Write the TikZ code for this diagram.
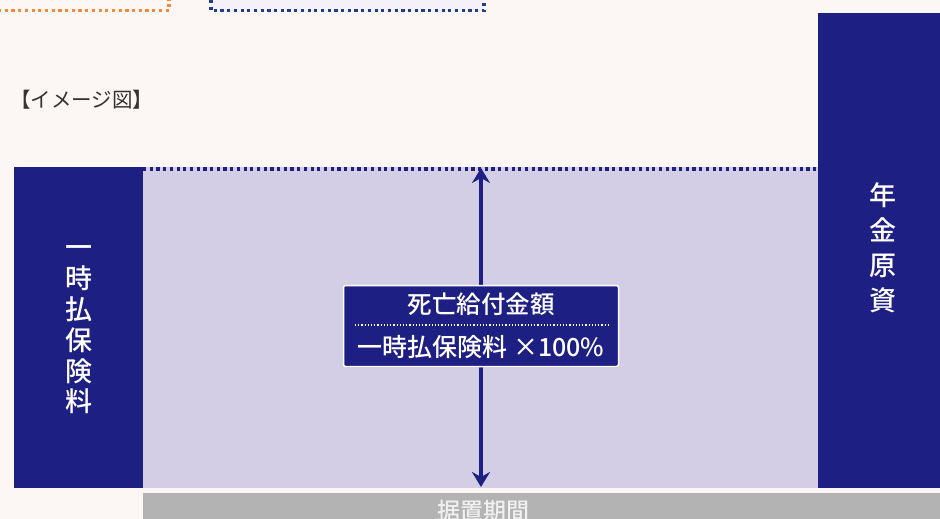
\documentclass[tikz,border=0pt]{standalone}
\usepackage{fontspec}
\setmainfont{Noto Sans CJK JP}
\newfontfamily\medfont{Noto Sans CJK JP}[UprightFont=* Medium]
\usetikzlibrary{arrows.meta,shadows}
\definecolor{bgc}{HTML}{FCF6F5}
\definecolor{navy}{HTML}{1E1F82}
\definecolor{lav}{HTML}{D3CEE6}
\definecolor{grayc}{HTML}{B3B3B3}
\definecolor{orangec}{HTML}{F28A3C}
\definecolor{bluedot}{HTML}{1F3C8F}
\definecolor{boxfill}{HTML}{F4F2F8}
\tikzset{
  vtext/.style={text=white,font=\medfont\fontsize{27}{30.8}\selectfont,align=center,inner sep=0pt},
  dotline/.style={line width=3.2pt,dash pattern=on 3.2pt off 3.5pt},
}
\begin{document}
\begin{tikzpicture}[x=1pt,y=-1pt]
\useasboundingbox[fill=bgc] (0,0) rectangle (940,519);
% partial top boxes
\fill[boxfill] (211,-5) rectangle (484,10.7);
\draw[orangec,dotline] (-2,10.7) -- (169,10.7) -- (169,0);
\draw[bluedot,dotline] (211,0) -- (211,10.7) -- (484,10.7) -- (484,0);
% label
\node[anchor=west,text=black!80,font=\fontsize{20.5}{22}\selectfont,inner sep=0pt] (lbl) at (10,100) {【イメージ図】};
% lavender area
\fill[lav] (143,167) rectangle (818,488);
\coordinate (dl) at (143,169);
\coordinate (dr) at (818,169);
\draw[navy,dotline] (dl) -- (dr);
% left box
\node[fill=navy,minimum width=129pt,minimum height=321pt,inner sep=0pt,anchor=north west] (lbox) at (14,167) {};
\node[vtext] (ltext) at (79,330) {一\\時\\払\\保\\険\\料};
% right box
\node[fill=navy,minimum width=122pt,minimum height=475pt,inner sep=0pt,anchor=north west] (rbox) at (818,13) {};
\node[vtext,font=\medfont\fontsize{27}{35}\selectfont] (rtext) at (883,248) {年\\金\\原\\資};
% bottom bar
\fill[grayc] (143,492.5) rectangle (945,525);
\node[text=white!94!black,font=\medfont\fontsize{23}{26}\selectfont,inner sep=0pt] (sue) at (483,511) {据置期間};
% arrow
\coordinate (atop) at (481,168);
\coordinate (abot) at (481,487);
\draw[navy,line width=4pt,{Stealth[length=15pt,width=18pt,inset=5pt]}-{Stealth[length=15pt,width=18pt,inset=5pt]}] (atop) -- (abot);
% center box
\node[draw=white,line width=1.5pt,fill=navy,rounded corners=2pt,minimum width=275pt,minimum height=81pt,inner sep=0pt,
  drop shadow={shadow xshift=0.5pt,shadow yshift=-1pt,opacity=0.35,fill=black!60}] (cbox) at (481,326) {};
\node[text=white,font=\medfont\fontsize{24.5}{26}\selectfont,inner sep=0pt] (c1) at (481,304) {死亡給付金額};
\draw[white,line width=1.2pt,dash pattern=on 1.2pt off 2pt] (355,325) -- (610,325);
\node[text=white,font=\medfont\fontsize{25}{27}\selectfont,inner sep=0pt] (c2) at (481,347) {一時払保険料 ×100\%};
\end{tikzpicture}
\end{document}
